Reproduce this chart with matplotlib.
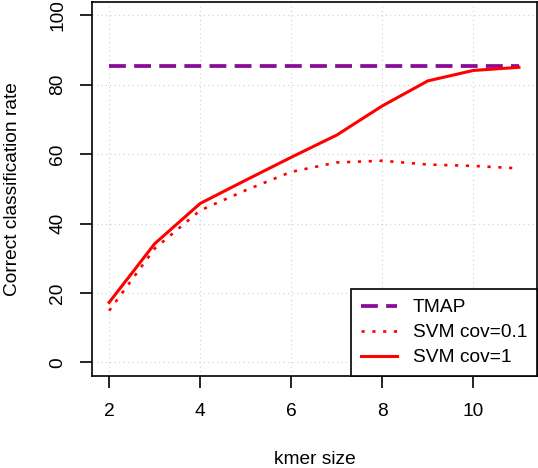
import matplotlib
matplotlib.use("Agg")
import matplotlib.pyplot as plt
import numpy as np

plt.rcParams['font.family'] = ['Liberation Sans', 'DejaVu Sans']

# data
kmer = [2, 3, 4, 5, 6, 7, 8, 9, 10, 11]
svm_cov1 = [17.3, 34.2, 45.8, 52.5, 59.1, 65.5, 73.9, 81.1, 84.1, 85.0]
svm_cov01 = [14.9, 32.8, 43.8, 49.6, 54.9, 57.6, 58.1, 57.0, 56.6, 55.9]
tmap_rate = 85.5
xticks = [2, 4, 6, 8, 10]
yticks = [0, 20, 40, 60, 80, 100]

fs = 13.8
W, H = 538, 468
fig = plt.figure(figsize=(W / 100, H / 100), dpi=100)
ax = fig.add_axes([92.3 / W, 1 - 376 / H, (536.7 - 92.3) / W, (376 - 1.7) / H])

ax.set_xlim(1.63, 11.39)
ax.set_ylim(-3.9, 103.9)

# R style dotted grid
for gx in xticks:
    ax.axvline(gx, color='#CFCFCF', lw=0.8, linestyle=(0, (1, 3)), zorder=0)
for gy in yticks:
    ax.axhline(gy, color='#CFCFCF', lw=0.8, linestyle=(0, (1, 3)), zorder=0)

ax.plot([kmer[0], kmer[-1]], [tmap_rate, tmap_rate], color='#8B0B96', lw=2.7,
        linestyle=(0, (4.5, 2.2)), dash_capstyle='butt', label='TMAP')
ax.plot(kmer, svm_cov01, color='red', lw=1.9, linestyle=(0, (1.2, 2.9)),
        dash_capstyle='butt', label='SVM cov=0.1')
ax.plot(kmer, svm_cov1, color='red', lw=2.2, label='SVM cov=1')

ax.set_xticks(xticks)
ax.set_yticks(yticks)
ax.set_xticklabels([str(v) for v in xticks])
ax.set_yticklabels([str(v) for v in yticks], rotation=90, va='center')
ax.tick_params(direction='out', length=8.6, width=1.2, labelsize=fs, pad=11)
ax.tick_params(axis='y', pad=10)
for s in ax.spines.values():
    s.set_linewidth(1.2)

fig.text(314.5 / W, 0.5 / H, 'kmer size', ha='center', va='bottom', fontsize=fs)
fig.text(12.5 / W, 1 - 189 / H, 'Correct classification rate', ha='center', va='center',
         rotation=90, fontsize=fs)

leg = ax.legend(loc='lower right', bbox_to_anchor=(1, 0), borderaxespad=0,
                fontsize=fs, handlelength=1.9, handletextpad=0.8,
                labelspacing=0.4, borderpad=0.5, fancybox=False,
                framealpha=1, edgecolor='black')
leg.get_frame().set_linewidth(1.2)

fig.savefig('out.png', dpi=100)
